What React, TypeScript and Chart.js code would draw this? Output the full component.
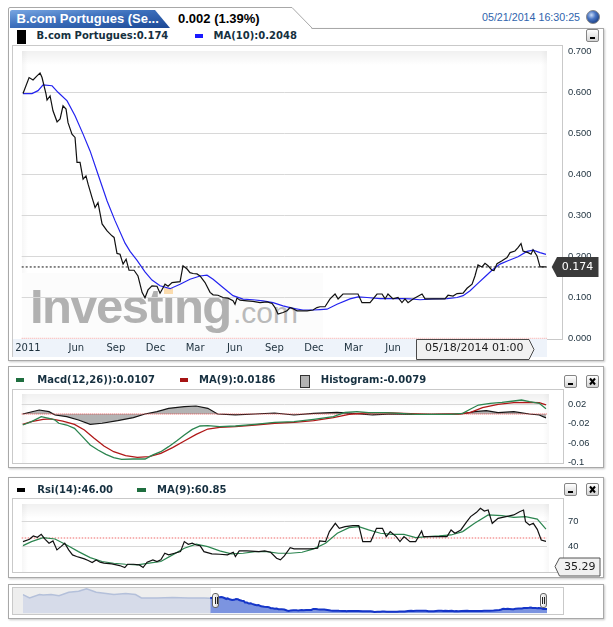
import React, { useEffect, useRef } from "react";
import { Chart, registerables } from "chart.js";

Chart.register(...registerables);

// ---------- DATA (x = months since 1 Jan 2011) ----------
const priceSeries: [number, number][] = [
  [0.96, 0.597], [1.42, 0.636], [1.72, 0.63], [2.02, 0.64], [2.25, 0.647], [2.4, 0.636], [2.7, 0.596], [2.78, 0.581],
  [3.01, 0.591], [3.23, 0.555], [3.54, 0.528], [3.77, 0.535], [3.99, 0.567], [4.22, 0.559], [4.37, 0.526], [4.67, 0.498],
  [4.9, 0.49], [5.05, 0.429], [5.28, 0.429], [5.51, 0.388], [5.73, 0.396], [5.89, 0.376], [6.19, 0.343], [6.42, 0.319],
  [6.64, 0.331], [6.95, 0.279], [7.33, 0.262], [7.7, 0.25], [7.86, 0.246], [8.08, 0.207], [8.31, 0.205], [8.54, 0.181],
  [8.77, 0.193], [8.99, 0.166], [9.37, 0.166], [9.67, 0.152], [9.98, 0.112], [10.2, 0.099], [10.43, 0.118], [10.73, 0.128],
  [11.11, 0.127], [11.34, 0.11], [11.72, 0.132], [11.95, 0.127], [12.25, 0.136], [12.86, 0.138], [13.08, 0.177], [13.39, 0.169],
  [13.61, 0.16], [13.84, 0.158], [14.14, 0.157], [14.37, 0.152], [14.75, 0.136], [15.13, 0.112], [15.36, 0.106], [15.73, 0.105],
  [16.11, 0.0995], [16.49, 0.098], [16.87, 0.0915], [17.02, 0.083], [17.17, 0.098], [17.4, 0.093], [17.93, 0.0915], [18.39, 0.09],
  [18.92, 0.087], [19.45, 0.089], [19.83, 0.085], [20.05, 0.075], [20.28, 0.059], [20.66, 0.063], [20.96, 0.067], [21.19, 0.075],
  [21.42, 0.072], [21.72, 0.067], [22.1, 0.067], [22.48, 0.067], [22.93, 0.069], [23.23, 0.075], [23.46, 0.077], [23.84, 0.077],
  [24.22, 0.096], [24.6, 0.108], [24.83, 0.096], [25.2, 0.108], [26.34, 0.108], [26.64, 0.087], [27.25, 0.087], [27.78, 0.108],
  [28.16, 0.108], [28.39, 0.096], [28.61, 0.108], [28.99, 0.096], [29.37, 0.0995], [29.67, 0.087], [29.9, 0.096], [30.13, 0.087],
  [30.51, 0.096], [31.19, 0.108], [31.42, 0.096], [32.02, 0.096], [32.93, 0.096], [33.16, 0.105], [33.54, 0.103], [33.84, 0.109],
  [34.3, 0.11], [34.6, 0.122], [34.98, 0.132], [35.2, 0.152], [35.43, 0.179], [35.73, 0.174], [35.96, 0.183], [36.19, 0.177],
  [36.49, 0.166], [36.64, 0.165], [36.87, 0.182], [37.25, 0.189], [37.63, 0.197], [37.86, 0.209], [38.23, 0.213], [38.46, 0.221],
  [38.69, 0.231], [38.84, 0.213], [39.22, 0.209], [39.45, 0.205], [39.6, 0.216], [39.9, 0.201], [40.13, 0.174], [40.58, 0.174],
];

const ma10Series: [number, number][] = [
  [0.96, 0.597], [1.64, 0.597], [2.1, 0.604], [2.48, 0.618], [3.16, 0.616], [3.61, 0.6], [4.3, 0.579], [4.9, 0.543],
  [5.51, 0.498], [6.04, 0.457], [6.64, 0.4], [7.33, 0.335], [7.93, 0.287], [8.69, 0.232], [9.07, 0.212], [9.6, 0.19],
  [10.2, 0.162], [10.73, 0.142], [11.34, 0.128], [12.1, 0.121], [12.86, 0.132], [13.61, 0.144], [14.37, 0.152], [14.9, 0.154],
  [15.36, 0.144], [16.11, 0.124], [16.87, 0.104], [17.63, 0.0955], [18.39, 0.094], [19.14, 0.0915], [19.9, 0.087], [20.66, 0.079],
  [21.42, 0.073], [22.17, 0.069], [22.93, 0.069], [23.46, 0.07], [23.99, 0.071], [24.75, 0.083], [25.73, 0.096], [26.34, 0.101],
  [27.02, 0.0995], [28.01, 0.097], [28.99, 0.097], [29.75, 0.097], [30.28, 0.096], [31.04, 0.094], [32.02, 0.096], [33.08, 0.097],
  [33.84, 0.0995], [34.3, 0.104], [34.83, 0.116], [35.36, 0.132], [35.96, 0.15], [36.49, 0.166], [37.1, 0.181], [37.7, 0.189],
  [38.46, 0.199], [39.14, 0.212], [39.6, 0.215], [40.13, 0.209], [40.58, 0.2048],
];

const macdSeries: [number, number][] = [
  [0.94, -0.0226], [1.6, -0.0157], [2.34, -0.0055], [2.93, -0.009], [3.38, -0.0123], [3.67, -0.019], [4.27, -0.0226], [4.86, -0.0294],
  [5.46, -0.0465], [6.05, -0.0636], [6.64, -0.0738], [7.24, -0.0827], [7.83, -0.0896], [8.43, -0.093], [9.32, -0.0923], [10.21, -0.0923],
  [10.8, -0.084], [11.4, -0.0773], [11.99, -0.067], [12.59, -0.0554], [13.18, -0.0431], [13.78, -0.0315], [14.37, -0.0246], [14.96, -0.024],
  [15.86, -0.026], [17.05, -0.0246], [18.53, -0.0212], [20.02, -0.0171], [21.49, -0.0157], [22.98, -0.0109], [24.47, -0.0055], [25.35, 0.0034],
  [26.26, 0.0048], [27.14, 0.0027], [28.33, 0.0027], [29.52, 0.0014], [30.71, -0.0007], [31.9, -0.0007], [33.39, -0.0007], [34.27, 0.0014],
  [34.87, 0.0103], [35.46, 0.0184], [36.36, 0.0219], [37.25, 0.024], [38.14, 0.0267], [38.73, 0.0287], [39.33, 0.0253], [40.07, 0.0219],
  [40.58, 0.0107],
];

const macdSignalSeries: [number, number][] = [
  [0.94, -0.0212], [1.6, -0.0157], [2.48, -0.0109], [3.08, -0.0102], [3.97, -0.0144], [4.86, -0.0212], [5.61, -0.0328], [6.35, -0.0499],
  [7.09, -0.0656], [7.83, -0.0773], [8.73, -0.0855], [9.62, -0.0889], [10.51, -0.0875], [11.4, -0.0807], [12.29, -0.069], [13.18, -0.0554],
  [14.08, -0.0417], [14.96, -0.0308], [15.86, -0.0273], [17.05, -0.026], [18.53, -0.0226], [20.02, -0.019], [21.49, -0.0171], [22.98, -0.0137],
  [24.47, -0.0075], [25.66, -0.0007], [26.85, 0.002], [28.33, 0.0027], [29.83, 0.0014], [31.9, -0.0007], [33.98, 0.0], [34.87, 0.0034],
  [35.77, 0.013], [36.95, 0.0199], [38.14, 0.0233], [39.33, 0.024], [40.07, 0.0233], [40.58, 0.0186],
];

const macdHistSeries: [number, number][] = [
  [0.94, 0.0], [2.19, 0.0082], [2.93, 0.0048], [3.39, -0.002], [4.27, -0.0055], [5.16, -0.0123], [6.05, -0.0212], [6.95, -0.019],
  [8.13, -0.0137], [9.32, -0.0075], [10.2, 0.0], [11.11, 0.0048], [11.99, 0.0116], [13.18, 0.015], [14.07, 0.0164], [14.96, 0.0116],
  [15.7, 0.0], [17.05, -0.002], [18.54, 0.0], [20.02, 0.002], [21.49, -0.002], [22.98, 0.0014], [24.75, 0.0034], [25.96, 0.0014],
  [27.44, -0.002], [28.92, 0.0], [30.42, -0.001], [31.9, -0.0005], [33.39, 0.0], [34.27, 0.0005], [35.17, 0.0048], [36.06, 0.0068],
  [36.95, 0.0027], [38.14, 0.0048], [39.33, 0.0], [40.07, -0.002], [40.58, -0.0079],
];

const rsiSeries: [number, number][] = [
  [0.96, 45.7], [1.45, 48.5], [1.74, 52.6], [2.05, 51], [2.34, 54.6], [2.64, 48.5], [2.93, 43.7], [3.23, 46.5],
  [3.53, 35.6], [3.83, 39.6], [4.12, 43.7], [4.42, 35.6], [4.71, 29.5], [5.02, 27.5], [5.31, 26.2], [5.61, 24.6],
  [5.9, 22.6], [6.2, 20.2], [6.5, 23.4], [6.8, 20.6], [7.09, 19.4], [7.69, 18.5], [8.28, 16.5], [8.67, 14.1],
  [8.88, 18.1], [9.32, 18.1], [9.77, 17.3], [10.06, 14.1], [10.36, 20.6], [10.8, 23.4], [11.11, 21.4], [11.4, 23.4],
  [11.7, 31.5], [11.99, 29.5], [12.44, 31.5], [12.89, 33.5], [13.18, 45.7], [13.48, 42.5], [13.78, 43.7], [14.08, 41.6],
  [14.37, 40.8], [14.67, 33.5], [15.27, 30.7], [15.86, 30.3], [16.45, 29.5], [16.89, 32.7], [17.05, 27.5], [17.34, 34.4],
  [17.93, 34.4], [18.83, 33.5], [19.27, 34.4], [19.72, 32.7], [20.17, 25.4], [20.46, 23.4], [20.76, 28.3], [21.2, 38.4],
  [21.5, 36.8], [22.1, 36.8], [22.69, 36.8], [23.28, 37.6], [23.43, 46.5], [23.88, 45.7], [24.17, 57.9], [24.62, 68],
  [24.92, 61.9], [25.36, 64], [25.95, 65.2], [26.4, 65.2], [26.7, 45.7], [27.3, 45.7], [27.74, 61.9], [28.19, 61.9],
  [28.48, 51.8], [28.78, 57.9], [29.23, 51.8], [29.52, 45.7], [29.82, 51.8], [30.27, 45.7], [30.71, 45.7], [31.16, 58.6],
  [31.3, 51.8], [33.08, 51.8], [33.39, 59.9], [33.68, 55.9], [34.13, 59.9], [34.58, 70], [34.87, 76.2], [35.32, 81.4],
  [35.61, 86.3], [35.91, 83], [36.2, 84.2], [36.51, 68], [36.95, 74.1], [37.55, 76.2], [38.14, 78.2], [38.58, 82.2],
  [38.88, 84.2], [39.03, 70], [39.33, 66], [39.62, 68], [39.92, 60.7], [40.22, 47.7], [40.58, 46.0],
];

const rsiMaSeries: [number, number][] = [
  [0.96, 40.8], [1.6, 45.7], [2.48, 50.6], [3.38, 48.9], [4.27, 41.6], [5.16, 33.5], [6.05, 26.2], [6.95, 21.4],
  [7.83, 19.3], [8.73, 18.1], [9.62, 17.3], [10.51, 19.4], [11.4, 21.4], [12.29, 29.5], [13.18, 37.6], [14.08, 42.5],
  [14.96, 39.6], [15.86, 34.4], [16.75, 30.7], [17.64, 31.5], [18.53, 33.5], [19.42, 33.5], [20.31, 31.5], [21.2, 31.5],
  [22.1, 32.7], [22.98, 36.8], [23.88, 43.7], [24.77, 55.9], [25.66, 62.7], [26.4, 64], [27.14, 60], [28.04, 55.9],
  [28.93, 54.6], [29.82, 54.6], [30.71, 50.6], [31.61, 51.8], [32.49, 52.6], [33.39, 53.8], [34.27, 57.9], [35.17, 68],
  [36.2, 78.2], [37.25, 77.3], [38.14, 75.3], [39.03, 76.1], [39.92, 73.2], [40.58, 60.85],
];

const navHistorySeries: [number, number][] = [
  [-21.08, 0.74], [-20.29, 0.61], [-19.13, 0.74], [-18.69, 0.72], [-17.75, 0.74], [-16.83, 0.7], [-15.68, 0.835], [-14.52, 0.875],
  [-13.59, 0.97], [-12.45, 0.835], [-11.29, 0.78], [-10.37, 0.74], [-8.98, 0.78], [-7.83, 0.74], [-7.13, 0.61], [-5.29, 0.61],
  [-3.45, 0.63], [-1.6, 0.61], [0.25, 0.61], [0.96, 0.597],
];

const xTickMonths = [1.33, 5, 8, 11, 14, 17, 20, 23, 26, 29];
const xTickLabels = ["2011", "Jun", "Sep", "Dec", "Mar", "Jun", "Sep", "Dec", "Mar", "Jun"];
const priceYTicks = [0, 0.1, 0.2, 0.3, 0.4, 0.5, 0.6, 0.7];
const macdYTicks = [0.02, -0.02, -0.06, -0.1];
const macdYLabels = ["0.02", "-0.02", "-0.06", "-0.1"];
const rsiYTicks = [40, 70];
const rsiMidLevel = 50;

const lastPrice = priceSeries[priceSeries.length - 1][1];

// ---------- CHART HELPERS ----------
const X_MIN = 0.86;
const X_MAX = 40.65;
const NAV_X_MIN = -21.1;
const NAV_X_MAX = 40.58;

const DEJAVU = "'DejaVu Sans', Verdana, sans-serif";
const ARIAL = "'Liberation Sans', Arial, sans-serif";
const AXIS_COLOR = "#1c2f3c";
const GRID = "#d8d8d8";

const toXY = (s: [number, number][]) => s.map(([x, y]) => ({ x, y }));

const line = (data: [number, number][], color: string, width: number, order: number, extra: any = {}) => ({
  data: toXY(data),
  borderColor: color,
  borderWidth: width,
  pointRadius: 0,
  tension: 0,
  fill: false,
  order,
  ...extra,
});

const hLine = (level: number, color: string, dash: number[], width: number, order: number) => ({
  data: [{ x: X_MIN, y: level }, { x: X_MAX, y: level }],
  borderColor: color,
  borderWidth: width,
  borderDash: dash,
  pointRadius: 0,
  fill: false,
  order,
  clip: false,
});

function yAxis(min: number, max: number, ticks: number[], label: (v: number, i: number) => string, hidden: number[]) {
  return {
    position: "right",
    min,
    max,
    afterBuildTicks: (s: any) => {
      s.ticks = ticks.map((v) => ({ value: v }));
    },
    afterFit: (s: any) => {
      s.width = 55.1;
      s.paddingTop = 0;
      s.paddingBottom = 0;
    },
    grid: {
      drawTicks: false,
      lineWidth: 1,
      color: (c: any) => (c.tick && hidden.includes(c.tick.value) ? "rgba(0,0,0,0)" : GRID),
    },
    border: { display: false },
    ticks: {
      padding: 21.1,
      font: { family: ARIAL, size: 9.4 },
      color: AXIS_COLOR,
      callback: (v: number, i: number) => label(v, i),
    },
  };
}

const hiddenX = { type: "linear", min: X_MIN, max: X_MAX, display: false };

const baseOptions = (padding: any) => ({
  animation: false,
  responsive: false,
  maintainAspectRatio: false,
  events: [],
  layout: { padding },
  plugins: { legend: { display: false }, tooltip: { enabled: false } },
});

const priceFlagPlugin = {
  id: "priceFlag",
  afterDraw(chart: any) {
    const ctx = chart.ctx;
    const y = chart.scales.y.getPixelForValue(lastPrice);
    const tip = 539.7;
    const x1 = 545;
    const x2 = 586.5;
    const h = 10;
    ctx.save();
    ctx.beginPath();
    ctx.moveTo(tip, y);
    ctx.lineTo(x1, y - h);
    ctx.lineTo(x2, y - h);
    ctx.lineTo(x2, y + h);
    ctx.lineTo(x1, y + h);
    ctx.closePath();
    ctx.fillStyle = "#3a3a3a";
    ctx.fill();
    ctx.fillStyle = "#ffffff";
    ctx.font = `11px ${DEJAVU}`;
    ctx.textAlign = "center";
    ctx.textBaseline = "middle";
    ctx.fillText(lastPrice.toFixed(3), 565.5, y + 0.5);
    ctx.restore();
  },
};

function buildMain(): any {
  return {
    type: "line",
    data: {
      datasets: [
        line(priceSeries, "#111111", 1.2, 0),
        line(ma10Series, "#2424f0", 1.2, 1),
        hLine(lastPrice, "#111111", [2, 2], 1, 2),
        hLine(0, "#f2a0a0", [1, 1], 1, 3),
      ],
    },
    options: {
      ...baseOptions({ left: 9.7, top: 6.3, right: 0, bottom: 0 }),
      scales: {
        x: {
          type: "linear",
          min: X_MIN,
          max: X_MAX,
          afterBuildTicks: (s: any) => {
            s.ticks = xTickMonths.map((v) => ({ value: v }));
          },
          afterFit: (s: any) => {
            s.height = 21.7;
            s.paddingLeft = 0;
            s.paddingRight = 0;
          },
          grid: { display: false, drawTicks: false },
          border: { display: false },
          ticks: {
            autoSkip: false,
            maxRotation: 0,
            minRotation: 0,
            padding: 3.7,
            font: { family: DEJAVU, size: 10 },
            color: AXIS_COLOR,
            callback: (_v: number, i: number) => xTickLabels[i],
          },
        },
        y: yAxis(0, 0.7, priceYTicks, (v) => v.toFixed(3), [0, 0.7]),
      },
    },
    plugins: [priceFlagPlugin],
  };
}

function buildMacd(): any {
  return {
    type: "line",
    data: {
      datasets: [
        line(macdSeries, "#2c8550", 1.3, 0),
        line(macdSignalSeries, "#b01818", 1.3, 1),
        hLine(0, "#e04545", [1, 1], 1, 2),
        line(macdHistSeries, "#151515", 1.2, 3, { fill: "origin", backgroundColor: "#b3b3b3" }),
      ],
    },
    options: {
      ...baseOptions({ left: 9.7, top: 5.3, right: 0, bottom: 7 }),
      scales: {
        x: hiddenX,
        y: yAxis(-0.1005, 0.0404, macdYTicks, (_v, i) => macdYLabels[i], [-0.1]),
      },
    },
  };
}

function buildRsi(): any {
  return {
    type: "line",
    data: {
      datasets: [
        line(rsiSeries, "#111111", 1.2, 0),
        line(rsiMaSeries, "#2c8550", 1.2, 1),
        hLine(rsiMidLevel, "#f39a9a", [1.5, 1.5], 1.5, 2),
      ],
    },
    options: {
      ...baseOptions({ left: 9.7, top: 6.3, right: 0, bottom: 2.3 }),
      scales: {
        x: hiddenX,
        y: yAxis(9.0, 91.2, rsiYTicks, (v) => String(v), []),
      },
    },
  };
}

function buildNav(): any {
  return {
    type: "line",
    data: {
      datasets: [
        line(priceSeries, "#1535c8", 2, 0, { fill: "origin", backgroundColor: "#7c94e0" }),
        line(navHistorySeries, "#b4c0da", 1.5, 1, { fill: "origin", backgroundColor: "#d6dbe9" }),
      ],
    },
    options: {
      ...baseOptions({ left: 9.7, top: 0, right: 16, bottom: 0.6 }),
      scales: {
        x: { type: "linear", min: NAV_X_MIN, max: NAV_X_MAX, display: false },
        y: { min: 0, max: 1.0, display: false },
      },
    },
  };
}

function ChartCanvas({ x, y, w, h, build }: { x: number; y: number; w: number; h: number; build: () => any }) {
  const ref = useRef<HTMLCanvasElement | null>(null);
  useEffect(() => {
    const chart = new Chart(ref.current as HTMLCanvasElement, build());
    return () => chart.destroy();
  }, []);
  return (
    <canvas
      ref={ref}
      width={w}
      height={h}
      style={{ position: "absolute", left: x, top: y, width: w, height: h }}
    />
  );
}

// ---------- LAYOUT HELPERS ----------
function Box({ x, y, w, h, style }: { x: number; y: number; w: number; h: number; style?: React.CSSProperties }) {
  return (
    <div
      style={{ position: "absolute", left: x, top: y, width: w, height: h, boxSizing: "border-box", ...style }}
    />
  );
}

function T({
  x, base, size, family = DEJAVU, bold = false, color = "#163040", children, style,
}: {
  x: number; base: number; size: number; family?: string; bold?: boolean; color?: string;
  children: React.ReactNode; style?: React.CSSProperties;
}) {
  return (
    <div
      style={{
        position: "absolute", left: x, top: base - 0.846 * size, fontSize: size, lineHeight: `${size}px`,
        fontFamily: family, fontWeight: bold ? 700 : 400, color, whiteSpace: "nowrap", ...style,
      }}
    >
      {children}
    </div>
  );
}

function MinBtn({ x, y }: { x: number; y: number }) {
  return (
    <div style={{ position: "absolute", left: x, top: y, width: 13, height: 13, boxSizing: "border-box",
      border: "1px solid #858585", borderRadius: 2, background: "linear-gradient(#ffffff, #d4d4d4)" }}>
      <div style={{ position: "absolute", left: 3, top: 7, width: 5, height: 2, background: "#000" }} />
    </div>
  );
}

function CloseBtn({ x, y }: { x: number; y: number }) {
  return (
    <div style={{ position: "absolute", left: x, top: y, width: 13, height: 13, boxSizing: "border-box",
      border: "1px solid #858585", borderRadius: 2, background: "linear-gradient(#ffffff, #d4d4d4)" }}>
      <svg width={11} height={11} style={{ position: "absolute", left: 0, top: 0 }}>
        <path d="M3 2.5 L8 8.5 M8 2.5 L3 8.5" stroke="#000" strokeWidth={2} />
      </svg>
    </div>
  );
}

function Handle({ x }: { x: number }) {
  return (
    <div style={{ position: "absolute", left: x, top: 593, width: 7, height: 15, boxSizing: "border-box",
      border: "1px solid #666", borderRadius: 3, background: "linear-gradient(to right, #ffffff, #d8d8d8)" }}>
      <div style={{ position: "absolute", left: 1.5, top: 3, width: 1, height: 7, background: "#222" }} />
      <div style={{ position: "absolute", left: 3.5, top: 3, width: 1, height: 7, background: "#222" }} />
    </div>
  );
}

const panelStyle: React.CSSProperties = {
  border: "1px solid #a8a8a8",
  background: "#ffffff",
  boxShadow: "1px 1px 2px rgba(0,0,0,0.22)",
};
const frameStyle: React.CSSProperties = { border: "1px solid #c9c9c9" };
const plotBg: React.CSSProperties = {
  background:
    "linear-gradient(to bottom, rgba(0,0,0,0.06), rgba(0,0,0,0) 14px), " +
    "linear-gradient(to right, rgba(0,0,0,0.035), rgba(0,0,0,0) 6px, rgba(0,0,0,0) calc(100% - 6px), rgba(0,0,0,0.03)), #ffffff",
};

export default function App() {
  return (
    <div style={{ position: "absolute", left: 0, top: 0, width: 613, height: 627, overflow: "hidden", background: "#fff" }}>
      {/* ---------- MAIN PANEL ---------- */}
      <Box x={8} y={28} w={596} h={333} style={panelStyle} />
      <svg width={613} height={40} style={{ position: "absolute", left: 0, top: 0 }}>
        <defs>
          <linearGradient id="tabBlue" x1="0" y1="0" x2="1" y2="1">
            <stop offset="0" stopColor="#78a6e2" />
            <stop offset="0.45" stopColor="#3c6fbc" />
            <stop offset="1" stopColor="#1b4794" />
          </linearGradient>
          <radialGradient id="ball" cx="0.38" cy="0.35" r="0.7">
            <stop offset="0" stopColor="#c9dbf6" />
            <stop offset="0.45" stopColor="#4a76c4" />
            <stop offset="1" stopColor="#163a80" />
          </radialGradient>
        </defs>
        <path d="M8 30 V8 H292 L313 30 Z" fill="#ffffff" />
        <path d="M8.5 30 V9 Q8.5 7.5 10 7.5 H292 L312.5 28.5" fill="none" stroke="#a8a8a8" strokeWidth={1} />
        <path d="M10 28 V12 Q10 10 12 10 H155 L170 28 Z" fill="url(#tabBlue)" />
        <circle cx={593} cy={17} r={6.5} fill="url(#ball)" stroke="#8a8a8a" strokeWidth={1} />
      </svg>
      <T x={16.5} base={22.7} size={13} family={ARIAL} bold color="#ffffff">B.com Portugues (Se...</T>
      <T x={178} base={22.7} size={13} family={ARIAL} bold color="#000000">0.002 (1.39%)</T>
      <T x={482} base={20.7} size={10.7} family={ARIAL} color="#2f64ad">05/21/2014 16:30:25</T>

      {/* legend row */}
      <Box x={16.5} y={29.5} w={9.5} h={14} style={{ background: "#000" }} />
      <T x={36.5} base={39.5} size={10} bold>B.com Portugues:0.174</T>
      <Box x={195} y={33.5} w={8} h={4} style={{ background: "#1a1aff" }} />
      <T x={213.5} base={39.5} size={10} bold>MA(10):0.2048</T>
      <MinBtn x={585.5} y={29} />

      {/* plot frame and background */}
      <Box x={12} y={45} w={551} h={295} style={frameStyle} />
      <Box x={22} y={51} w={525} h={288} style={plotBg} />
      <Box x={22} y={273} w={301} h={65} style={{ background: "#fcfcfc" }} />
      <T x={30} base={323} size={49} family={ARIAL} bold color="#b1b1b1" style={{ letterSpacing: -1.6 }}>Investing</T>
      <T x={233} base={323} size={30} family={ARIAL} color="#bababa">.com</T>
      <Box x={164} y={288} w={9} h={6} style={{ background: "#fbdcae" }} />
      <Box x={12} y={339} w={535} h={18} style={{ background: "#eef3fa", borderLeft: "1px solid #c9c9c9" }} />

      <ChartCanvas x={12} y={45} w={590} h={315} build={buildMain} />

      {/* date flag */}
      <svg width={613} height={627} style={{ position: "absolute", left: 0, top: 0, pointerEvents: "none" }}>
        <path d="M416.5 339.5 H529 L534 349.5 L529 359.5 H416.5 Z" fill="#f1f1f1" stroke="#4a4a4a" strokeWidth={1} />
      </svg>
      <T x={425} base={351.7} size={11} color="#1c1c1c">05/18/2014 01:00</T>

      {/* ---------- MACD PANEL ---------- */}
      <Box x={8} y={366} w={596} h={102} style={panelStyle} />
      <Box x={16} y={378} w={8} h={4} style={{ background: "#1f6e3f" }} />
      <T x={37.3} base={383.3} size={10} bold>Macd(12,26)):0.0107</T>
      <Box x={179.6} y={378} w={8.5} h={4} style={{ background: "#a61414" }} />
      <T x={199} base={383.3} size={10} bold>MA(9):0.0186</T>
      <Box x={300} y={374.5} w={10} h={13} style={{ background: "#b4b4b4", border: "1px solid #333" }} />
      <T x={320.8} base={383.3} size={10} bold>Histogram:-0.0079</T>
      <MinBtn x={563.5} y={374.5} />
      <CloseBtn x={586} y={374.5} />
      <Box x={12} y={389} w={552} h={75} style={frameStyle} />
      <Box x={22} y={394} w={527} h={69} style={plotBg} />
      <ChartCanvas x={12} y={389} w={590} h={81} build={buildMacd} />

      {/* ---------- RSI PANEL ---------- */}
      <Box x={8} y={477} w={596} h={101} style={panelStyle} />
      <Box x={16.5} y={487.5} w={8} h={4} style={{ background: "#000" }} />
      <T x={37.3} base={493.3} size={10} bold>Rsi(14):46.00</T>
      <Box x={137} y={487.5} w={9} h={4} style={{ background: "#1f6e3f" }} />
      <T x={157} base={493.3} size={10} bold>MA(9):60.85</T>
      <MinBtn x={563.5} y={483} />
      <CloseBtn x={586} y={483} />
      <Box x={12} y={498} w={552} h={75} style={frameStyle} />
      <Box x={22} y={504} w={527} h={68} style={plotBg} />
      <ChartCanvas x={12} y={498} w={590} h={76} build={buildRsi} />
      <svg width={613} height={627} style={{ position: "absolute", left: 0, top: 0, pointerEvents: "none" }}>
        <path d="M555 566.5 L559.5 558 H600 V576 H559.5 Z" fill="#f1f1f1" stroke="#555" strokeWidth={1} />
      </svg>
      <T x={564} base={570.5} size={11} color="#1c1c1c">35.29</T>

      {/* ---------- NAVIGATOR ---------- */}
      <Box x={8} y={584} w={596} h={35} style={panelStyle} />
      <Box x={12} y={587} w={552} h={28} style={frameStyle} />
      <Box x={13} y={588} w={198} h={26} style={{ background: "#eeeeee" }} />
      <ChartCanvas x={13} y={588} w={550} h={26} build={buildNav} />
      <Handle x={212} />
      <Handle x={539.5} />
    </div>
  );
}
